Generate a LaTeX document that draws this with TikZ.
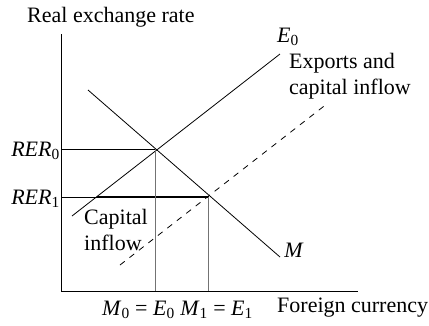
\documentclass[tikz,border=0pt]{standalone}
\usepackage{fontspec}
\setmainfont{Liberation Serif}
\newcommand{\vsub}[1]{\textsubscript{#1}}
\begin{document}
\begin{tikzpicture}[x=1pt,y=-1pt,
  lbl/.style={inner sep=0pt,font=\fontsize{22}{25.5}\selectfont},
  thinline/.style={line width=0.8pt,black},
  guide/.style={line width=1pt,black!55},
  dashline/.style={line width=0.8pt,dash pattern=on 6pt off 6pt}]
\useasboundingbox (0,0) rectangle (429,325);
% axes
\coordinate (top) at (61,34);
\coordinate (orig) at (61,291);
\coordinate (xend) at (358,291);
\draw[thinline] (top) -- (orig) -- (xend);
% key points
\coordinate (A) at (155,149);
\coordinate (B) at (208.5,197);
\coordinate (C) at (96.5,197);
\coordinate (A0) at (61,149);
\coordinate (B0) at (61,197);
\coordinate (Ab) at (155,291);
\coordinate (Bb) at (208.5,291);
% E0 line
\coordinate (E0s) at (72,216);
\coordinate (E0e) at (280,54);
\draw[thinline] (E0s) -- (E0e);
% M line
\coordinate (Ms) at (88,90);
\coordinate (Me) at (280,257);
\draw[thinline] (Ms) -- (Me);
% dashed line
\coordinate (Ds) at (120,265);
\coordinate (De) at (328,103);
\draw[dashline] (Ds) -- (De);
% horizontals
\draw[thinline] (A0) -- (A);
\draw[thinline] (B0) -- (C);
\draw[line width=2.2pt] (C) -- (B);
% verticals
\draw[guide] (A) -- (Ab);
\draw[guide] (B) -- (Bb);
% labels
\node[lbl,anchor=west] (ylab) at (27,17) {Real exchange rate};
\node[lbl] (e0lab) at (288,37) {\textit{E}\vsub{0}};
\node[lbl,anchor=west,align=left] (explab) at (289,76) {Exports and\\capital inflow};
\node[lbl,anchor=east] (rer0) at (60,151) {\textit{RER}\vsub{0}};
\node[lbl,anchor=east] (rer1) at (60,199) {\textit{RER}\vsub{1}};
\node[lbl,anchor=west,align=left] (caplab) at (84,230) {Capital\\inflow};
\node[lbl] (mlab) at (294,250) {\textit{M}};
\node[lbl,anchor=west] (mlabs) at (102,310) {\textit{M}\vsub{0} = \textit{E}\vsub{0} \textit{M}\vsub{1} = \textit{E}\vsub{1}};
\node[lbl,anchor=west] (xlab) at (277,308) {Foreign currency};
\end{tikzpicture}
\end{document}
